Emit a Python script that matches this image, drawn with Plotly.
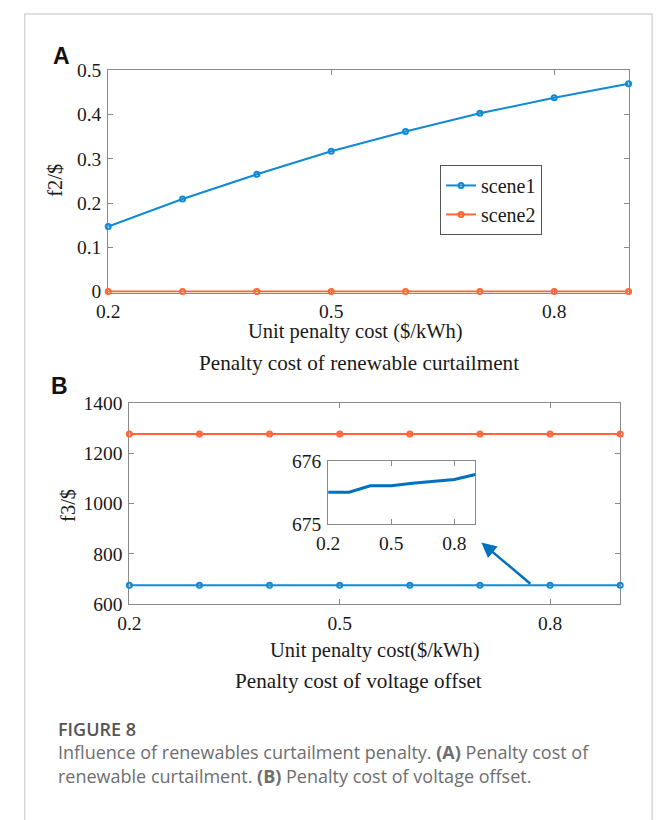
import plotly.graph_objects as go

# ---- data ----
unit_cost = [0.2, 0.3, 0.4, 0.5, 0.6, 0.7, 0.8, 0.9]
f2_scene1 = [0.147, 0.209, 0.265, 0.317, 0.362, 0.403, 0.438, 0.470]
f2_scene2 = [0, 0, 0, 0, 0, 0, 0, 0]
f3_scene1 = [675.6, 675.6, 675.6, 675.6, 675.6, 675.6, 675.6, 675.6]
f3_scene2 = [1276, 1276, 1276, 1276, 1276, 1276, 1276, 1276]
inset_f3 = [675.51, 675.51, 675.61, 675.61, 675.65, 675.68, 675.71, 675.79]
x_ticks = [0.2, 0.5, 0.8]
x_ticklabels = ["0.2", "0.5", "0.8"]

W, H = 658, 820
BLUE = "#0f8bd6"
ORANGE = "#ff6633"
AX = "#8a8a8a"
SERIF = "Liberation Serif"
TXT = "#1a1a1a"


def px(x):
    return x / W


def py(y):
    return 1 - y / H


fig = go.Figure()

mk = dict(symbol="circle-open", size=5, line=dict(width=2))

fig.add_trace(go.Scatter(x=unit_cost, y=f2_scene1, mode="lines+markers", name="scene1",
                         line=dict(color=BLUE, width=2), marker=dict(color=BLUE, **mk),
                         xaxis="x", yaxis="y", cliponaxis=False))
fig.add_trace(go.Scatter(x=unit_cost, y=f2_scene2, mode="lines+markers", name="scene2",
                         line=dict(color=ORANGE, width=2), marker=dict(color=ORANGE, **mk),
                         xaxis="x", yaxis="y", cliponaxis=False))
fig.add_trace(go.Scatter(x=unit_cost, y=f3_scene1, mode="lines+markers", showlegend=False,
                         line=dict(color=BLUE, width=2), marker=dict(color=BLUE, **mk),
                         xaxis="x2", yaxis="y2", cliponaxis=False))
fig.add_trace(go.Scatter(x=unit_cost, y=f3_scene2, mode="lines+markers", showlegend=False,
                         line=dict(color=ORANGE, width=2), marker=dict(color=ORANGE, **mk),
                         xaxis="x2", yaxis="y2", cliponaxis=False))
fig.add_trace(go.Scatter(x=unit_cost, y=inset_f3, mode="lines", showlegend=False,
                         line=dict(color="#0072BD", width=3),
                         xaxis="x3", yaxis="y3"))

axcommon = dict(showline=True, linecolor=AX, linewidth=1, mirror="ticks", ticks="inside",
                ticklen=5, tickcolor=AX, showgrid=False, zeroline=False, layer="below traces",
                tickfont=dict(family=SERIF, size=19.5, color=TXT))

fig.update_layout(
    width=W, height=H, margin=dict(l=0, r=0, t=0, b=0),
    paper_bgcolor="white", plot_bgcolor="white",
    xaxis=dict(domain=[px(98), px(628)], range=[0.2, 0.9], tickvals=x_ticks,
               ticktext=x_ticklabels, anchor="y", **axcommon),
    yaxis=dict(domain=[py(290), py(62)], range=[-0.0025, 0.5], tickvals=[0, 0.1, 0.2, 0.3, 0.4, 0.5],
               ticktext=["0", "0.1", "0.2", "0.3", "0.4", "0.5"], anchor="x", **axcommon),
    xaxis2=dict(domain=[px(119.5), px(619.5)], range=[0.2, 0.9], tickvals=x_ticks,
                ticktext=x_ticklabels, anchor="y2", **axcommon),
    yaxis2=dict(domain=[py(610), py(403)], range=[600, 1400],
                tickvals=[600, 800, 1000, 1200, 1400], anchor="x2", **axcommon),
    xaxis3=dict(domain=[px(322), px(472)], range=[0.2, 0.9], tickvals=x_ticks,
                ticktext=x_ticklabels, anchor="y3", **axcommon),
    yaxis3=dict(domain=[py(528), py(463)], range=[675, 676], tickvals=[675, 676],
                anchor="x3", **axcommon),
    legend=dict(x=px(436), y=py(159), xanchor="left", yanchor="top",
                bgcolor="white", bordercolor="#555555", borderwidth=1,
                font=dict(family=SERIF, size=20, color=TXT), itemwidth=30,
                tracegroupgap=0),
    showlegend=True,
)

fig.update_xaxes(ticklabelstandoff=1)
fig.update_yaxes(ticklabelstandoff=2)

ann = []


def text(x, y, s, size=20, family=SERIF, color=TXT, angle=0, xanchor="center", weight="normal"):
    ann.append(dict(x=px(x), y=py(y), xref="paper", yref="paper", text=s, showarrow=False,
                    font=dict(family=family, size=size, color=color, weight=weight),
                    textangle=angle, xanchor=xanchor, yanchor="middle"))


text(50, 47, "A", size=23, family="Liberation Sans", color="#111", weight="bold")
text(48, 386, "B", size=23, family="Liberation Sans", color="#111", weight="bold")
text(43, 175, "f2/$", size=20.5, angle=-90)
text(57, 508, "f3/$", size=20.5, angle=-90)
text(350, 330, "Unit penalty cost ($/kWh)", size=20.5)
text(353, 362, "Penalty cost of renewable curtailment", size=21.2)
text(370, 657, "Unit penalty cost($/kWh)", size=20.5)
text(353, 689, "Penalty cost of voltage offset", size=21.2)

text(45, 738, "FIGURE 8", size=18, family="Open Sans", color="#555555", xanchor="left", weight=600)
text(45, 762, "Influence of renewables curtailment penalty. <b>(A)</b> Penalty cost of",
     size=18, family="Open Sans", color="#6e6e6e", xanchor="left")
text(45, 786, "renewable curtailment. <b>(B)</b> Penalty cost of voltage offset.",
     size=18, family="Open Sans", color="#6e6e6e", xanchor="left")

ann.append(dict(x=0.702, y=845, xref="x2", yref="y2", ax=0.774, ay=677, axref="x2", ayref="y2",
                showarrow=True, arrowhead=2, arrowsize=1.2, arrowwidth=2.5, arrowcolor="#0072BD",
                text=""))

fig.update_layout(annotations=ann)

fig.add_shape(type="rect", xref="paper", yref="paper", x0=px(13), x1=px(652), y0=-0.5, y1=py(4),
              line=dict(color="#d6d6d6", width=1.5), fillcolor="rgba(0,0,0,0)", layer="below")

fig.write_html("out.html", config={"displayModeBar": False},
               post_script="document.body.style.margin='0';document.body.style.overflow='hidden';")
